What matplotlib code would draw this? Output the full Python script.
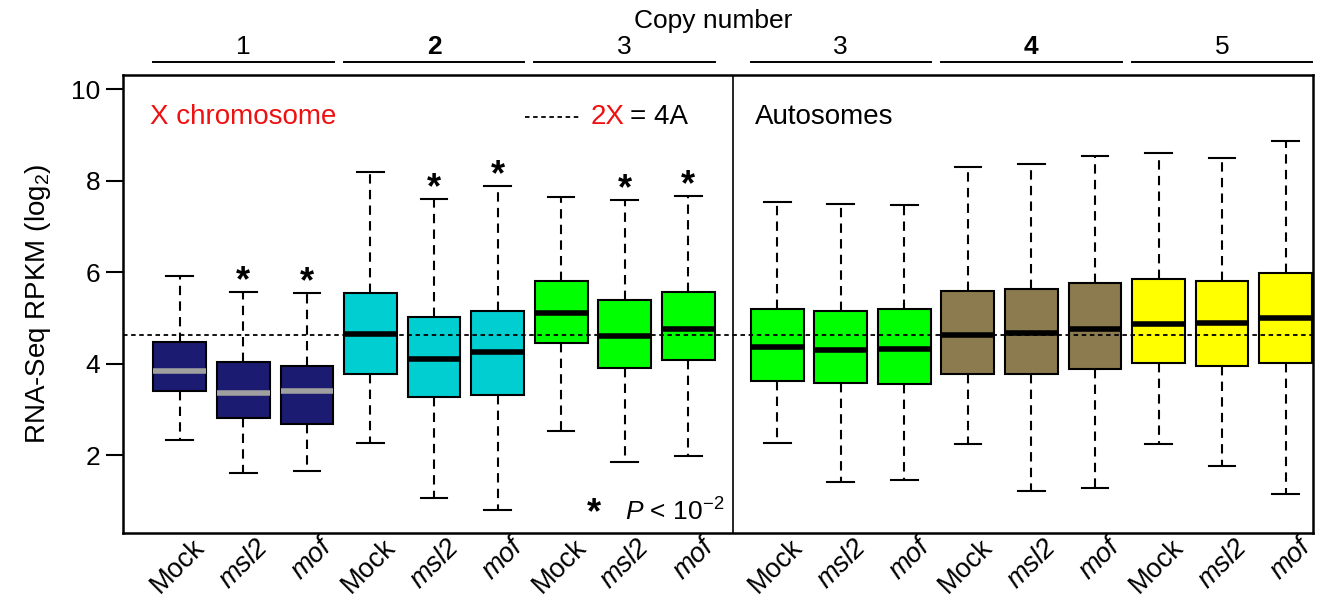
import matplotlib
matplotlib.use("Agg")
import matplotlib.pyplot as plt
import matplotlib.transforms as mtransforms

plt.rcParams['font.family'] = ['Liberation Sans', 'DejaVu Sans']
plt.rcParams['mathtext.fontset'] = 'custom'
plt.rcParams['mathtext.rm'] = 'Liberation Sans'
plt.rcParams['mathtext.it'] = 'Liberation Sans:italic'

# ---------------- data ----------------
conditions = ["Mock", "msl2", "mof"] * 6
italic = [False, True, True] * 6
group_labels = ["1", "2", "3", "3", "4", "5"]
group_bold = [False, True, False, False, True, False]

whishi = [5.92, 5.57, 5.54, 8.19, 7.60, 7.88, 7.65, 7.58, 7.67,
          7.53, 7.50, 7.48, 8.30, 8.36, 8.55, 8.60, 8.50, 8.86]
q3 = [4.47, 4.05, 3.96, 5.55, 5.03, 5.16, 5.81, 5.39, 5.56,
      5.20, 5.15, 5.19, 5.60, 5.63, 5.76, 5.86, 5.81, 5.98]
med = [3.84, 3.37, 3.41, 4.65, 4.11, 4.25, 5.12, 4.61, 4.76,
       4.37, 4.31, 4.33, 4.64, 4.67, 4.77, 4.87, 4.90, 5.00]
q1 = [3.41, 2.82, 2.69, 3.78, 3.28, 3.33, 4.45, 3.92, 4.08,
      3.62, 3.58, 3.57, 3.78, 3.78, 3.89, 4.01, 3.95, 4.03]
whislo = [2.34, 1.62, 1.66, 2.28, 1.08, 0.81, 2.53, 1.86, 1.99,
          2.28, 1.43, 1.46, 2.25, 1.23, 1.30, 2.25, 1.77, 1.15]
significant = [False, True, True, False, True, True, False, True, True,
               False, False, False, False, False, False, False, False, False]
ref_level = 4.63

group_colors = ["#1b1b72", "#00ced1", "#00ff00", "#00ff00", "#8b7b4e", "#ffff00"]
median_colors = ["#a0a0a0", "black", "black", "black", "black", "black"]

# ---------------- layout ----------------
positions = [1, 2, 3, 4, 5, 6, 7, 8, 9] + [10.4 + i for i in range(9)]
divider = 9.7

fig = plt.figure(figsize=(13.23, 6.05), dpi=100)
ax = fig.add_axes([0.0927, 0.1185, 0.8997, 0.7575])

stats = []
for i in range(18):
    stats.append(dict(med=med[i], q1=q1[i], q3=q3[i],
                      whislo=whislo[i], whishi=whishi[i], fliers=[]))

bp = ax.bxp(stats, positions=positions, widths=0.83, patch_artist=True,
            showfliers=False, capwidths=0.42,
            boxprops=dict(linewidth=1.5, edgecolor='black'),
            whiskerprops=dict(linewidth=1.5, linestyle=(0, (4.5, 3)), color='black'),
            capprops=dict(linewidth=1.5, color='black'),
            medianprops=dict(linewidth=4.0, color='black', solid_capstyle='butt'))

for i, box in enumerate(bp['boxes']):
    g = i // 3
    box.set_facecolor(group_colors[g])
    bp['medians'][i].set_color(median_colors[g])
    bp['medians'][i].set_zorder(3)

ax.axhline(ref_level, color='black', linewidth=1.3, linestyle=(0, (2.5, 2)), zorder=5)
ax.axvline(divider, color='black', linewidth=1.2, zorder=4)

ax.set_xlim(0.1, 18.83)
ax.set_ylim(0.30, 10.31)
ax.set_yticks([2, 4, 6, 8, 10])
ax.tick_params(axis='y', labelsize=19, length=12, width=1.5, pad=4)
ax.tick_params(axis='x', length=0, labelbottom=False)
for s in ax.spines.values():
    s.set_linewidth(1.8)

ax.set_ylabel(r"RNA-Seq RPKM (log$_2$)", fontsize=20, labelpad=13)

trans = mtransforms.blended_transform_factory(ax.transData, ax.transAxes)

# significance asterisks
for i in range(18):
    if significant[i]:
        ax.text(positions[i], whishi[i] + 0.02, "*", ha='center', va='baseline',
                fontsize=26, fontweight='bold')

# x tick labels
for p, lab, it in zip(positions, conditions, italic):
    ax.text(p + 0.33, -0.022, lab, transform=trans, rotation=45, ha='right',
            va='center', rotation_mode='anchor', fontsize=19.5,
            style='italic' if it else 'normal', clip_on=False)

# copy number header
centers = [2, 5, 8, 11.4, 14.4, 17.4]
for c, lab, b in zip(centers, group_labels, group_bold):
    ax.plot([c - 1.42, c + 1.42], [1.028, 1.028], transform=trans, color='black',
            linewidth=1.4, clip_on=False)
    ax.text(c, 1.062, lab, transform=trans, ha='center', va='center', fontsize=19,
            fontweight='bold' if b else 'normal')
ax.text(9.4, 1.117, "Copy number", transform=trans, ha='center', va='center', fontsize=19)

# in-plot annotations
ax.text(0.53, 0.908, "X chromosome", transform=trans, color='#ee1111', fontsize=20,
        ha='left', va='center')
ax.text(10.05, 0.908, "Autosomes", transform=trans, color='black', fontsize=20,
        ha='left', va='center')
ax.plot([6.43, 7.30], [0.908, 0.908], transform=trans, color='black', linewidth=1.3,
        linestyle=(0, (2.5, 2)))
t2 = ax.text(7.46, 0.908, "2X", transform=trans, color='#ee1111', fontsize=20,
             ha='left', va='center')
ax.annotate("= 4A", xy=(1, 0.5), xycoords=t2, xytext=(4, 0), textcoords='offset points',
            fontsize=20, ha='left', va='center')
ax.text(7.51, 0.022, "*", transform=trans, fontsize=26, fontweight='bold',
        ha='center', va='baseline')
ax.text(8.0, 0.047, r"$P$ < 10$^{-2}$", transform=trans, fontsize=19,
        ha='left', va='center')

fig.savefig("out.png", dpi=100)
